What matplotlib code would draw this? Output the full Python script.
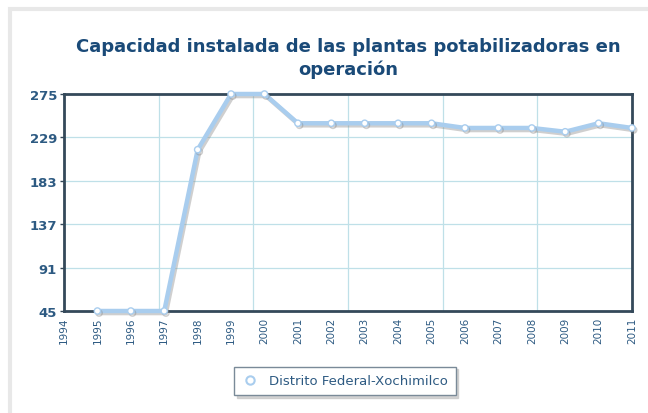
import matplotlib
matplotlib.use("Agg")
import matplotlib.pyplot as plt
import matplotlib.patheffects as pe
from matplotlib.patches import Rectangle
from matplotlib.lines import Line2D
import numpy as np

years = [1995, 1996, 1997, 1998, 1999, 2000, 2001, 2002, 2003, 2004, 2005,
         2006, 2007, 2008, 2009, 2010, 2011]
capacidad = [45, 45, 45, 216, 275, 275, 244, 244, 244, 244, 244,
             239, 239, 239, 235, 244, 239]
year_labels = [str(y) for y in range(1994, 2012)]
y_ticks = [45, 91, 137, 183, 229, 275]

title_color = "#1a4a78"
label_color = "#2d5a82"
line_color = "#a9cdee"
border_color = "#34495a"
grid_color = "#bfe0e8"

fig = plt.figure(figsize=(6.48, 4.14), dpi=100)
fig.patch.set_facecolor("white")

# light gray panel frame on the left/top
fig.patches.append(Rectangle((0.015, -0.1), 1.1, 1.075, transform=fig.transFigure,
                             fill=False, edgecolor="#e8e8e8", linewidth=3, zorder=0))

ax = fig.add_axes([64 / 648, 1 - 312 / 414, (632 - 64) / 648, (312 - 95) / 414])
ax.set_xlim(1994, 2011)
ax.set_ylim(45, 275)

# gridlines: 6 equal divisions in x, y ticks in y
for gx in np.linspace(1994, 2011, 7)[1:-1]:
    ax.axvline(gx, color=grid_color, linewidth=0.9, zorder=1)
for gy in y_ticks[1:-1]:
    ax.axhline(gy, color=grid_color, linewidth=0.9, zorder=1)

ax.plot(years, capacidad, color=line_color, linewidth=3.2, marker="o",
        markersize=4.5, markerfacecolor="white", markeredgecolor=line_color,
        markeredgewidth=1.0, zorder=3, clip_on=False,
        path_effects=[pe.SimpleLineShadow(offset=(1.2, -1.5), shadow_color="#888888", alpha=0.4),
                      pe.Normal()])

ax.set_yticks(y_ticks)
ax.set_yticklabels([str(v) for v in y_ticks], color=label_color, fontsize=9.5,
                   fontweight="bold")
ax.set_xticks(range(1994, 2012))
ax.set_xticklabels(year_labels, rotation=90, color=label_color, fontsize=7.5)
ax.tick_params(axis="y", length=3, width=1, color=border_color, pad=2)
ax.tick_params(axis="x", length=0, pad=4)

for s in ax.spines.values():
    s.set_color(border_color)
    s.set_linewidth(2)

fig.text(0.538, 1 - 47 / 414, "Capacidad instalada de las plantas potabilizadoras en",
         ha="center", va="center", fontsize=13, fontweight="bold", color=title_color)
fig.text(0.538, 1 - 70 / 414, "operación", ha="center", va="center",
         fontsize=13, fontweight="bold", color=title_color)

handle = Line2D([], [], linestyle="none", marker="o", markersize=6,
                markerfacecolor="white", markeredgecolor=line_color, markeredgewidth=1.5)
leg = fig.legend([handle], ["Distrito Federal-Xochimilco"], loc="center",
                 bbox_to_anchor=(345 / 648, 1 - 382 / 414),
                 frameon=True, fancybox=False,
                 shadow={"color": "#c8c8c8", "alpha": 0.8},
                 fontsize=9.5, handlelength=1.2, handletextpad=0.8, borderpad=0.6,
                 borderaxespad=0)
leg.get_frame().set_edgecolor("#7a8a98")
leg.get_frame().set_linewidth(1)
for t in leg.get_texts():
    t.set_color(label_color)

fig.savefig("out.png", dpi=100)
